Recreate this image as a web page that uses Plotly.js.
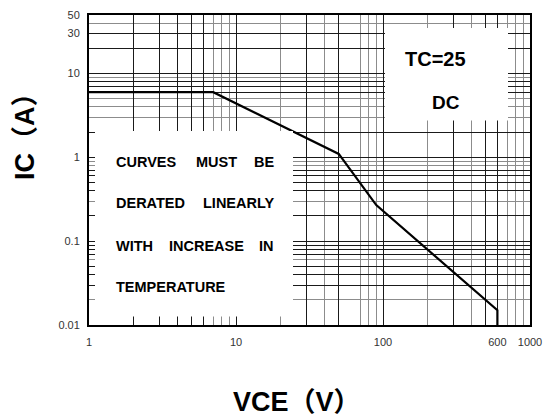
<!DOCTYPE html>
<html>
<head>
<meta charset="utf-8">
<script src="https://cdn.plot.ly/plotly-3.0.1.min.js"></script>
<style>html,body{margin:0;padding:0;background:#fff;}#chart{width:553px;height:417px;}</style>
</head>
<body>
<div id="chart"></div>
<script>
// Safe operating area curve (DC, TC=25)
const vce = [1, 7, 50, 90, 600, 600];
const ic = [6, 6, 1.1, 0.27, 0.015, 0.01];

// Tick labels
const xTickVals = [1, 10, 100, 600, 1000];
const xTickText = ['1', '10', '100', '600', '1000'];
const yTickVals = [0.01, 0.1, 1, 10, 30, 50];
const yTickText = ['0.01', '0.1', '1', '10', '30', '50'];

// Grid lines (dark and light)
const xGridDark = [2, 3, 4, 5, 6, 30, 50, 300, 500];
const xGridLight = [7, 8, 9, 20, 40, 70, 80, 90, 200, 400, 700, 800, 900];
const yGridDark = [0.03, 0.04, 0.05, 0.07, 0.08, 0.09, 0.2, 0.4, 0.5, 0.6, 0.7, 2, 6, 7, 8, 20];
const yGridLight = [0.02, 0.06, 0.3, 0.8, 0.9, 3, 4, 5, 9, 40];

// Note texts
const noteLines = [
  ['CURVES', 'MUST', 'BE'],
  ['DERATED', 'LINEARLY'],
  ['WITH', 'INCREASE', 'IN'],
  ['TEMPERATURE']
];
const condText = ['TC=25', 'DC'];
const xTitle = 'VCE（V）';
const yTitle = 'IC（A）';

const W = 553, H = 417;
const M = {l: 89, r: 23, t: 15, b: 92};
const PW = W - M.l - M.r, PH = H - M.t - M.b;
const px = x => (x - M.l) / PW;
const py = y => (M.t + PH - y) / PH;

function mergeTicks(vals, text, dark) {
  const all = vals.map((v, i) => [v, text[i]]).concat(dark.map(v => [v, '']));
  all.sort((a, b) => a[0] - b[0]);
  return {v: all.map(a => a[0]), t: all.map(a => a[1])};
}
const xt = mergeTicks(xTickVals, xTickText, xGridDark);
const yt = mergeTicks(yTickVals, yTickText, yGridDark);

const FONT = 'Liberation Sans, Arial, Noto Sans CJK SC, sans-serif';
const tickFont = {family: FONT, size: 11, color: '#333'};

const trace = {
  x: vce, y: ic, type: 'scatter', mode: 'lines',
  line: {color: '#000', width: 2.2}, hoverinfo: 'skip', showlegend: false
};

const noteFont = {family: FONT, size: 14.5, color: '#000', weight: 'bold'};
const notePos = [
  [[113.5, 'left'], [193.5, 'left'], [276, 'right']],
  [[113.5, 'left'], [276, 'right']],
  [[113.5, 'left'], [167, 'left'], [276, 'right']],
  [[113.5, 'left']]
];
const noteY = [161.7, 203.3, 246, 287];

const annotations = [];
noteLines.forEach((words, i) => {
  words.forEach((w, j) => {
    annotations.push({
      text: w, xref: 'paper', yref: 'paper',
      x: px(notePos[i][j][0]), y: py(noteY[i]),
      xanchor: notePos[i][j][1], yanchor: 'middle',
      showarrow: false, font: noteFont
    });
  });
});
annotations.push({text: condText[0], xref: 'paper', yref: 'paper', x: px(435), y: py(59),
  xanchor: 'center', yanchor: 'middle', showarrow: false,
  font: {family: FONT, size: 20, color: '#000', weight: 'bold'}});
annotations.push({text: condText[1], xref: 'paper', yref: 'paper', x: px(446), y: py(102.5),
  xanchor: 'center', yanchor: 'middle', showarrow: false,
  font: {family: FONT, size: 19, color: '#000', weight: 'bold'}});
annotations.push({text: xTitle, xref: 'paper', yref: 'paper', x: px(297), y: py(401.5),
  xanchor: 'center', yanchor: 'middle', showarrow: false,
  font: {family: FONT, size: 27, color: '#000', weight: 'bold'}});
annotations.push({text: yTitle, xref: 'paper', yref: 'paper', x: px(25), y: py(130),
  xanchor: 'center', yanchor: 'middle', showarrow: false, textangle: -90,
  font: {family: FONT, size: 27, color: '#000', weight: 'bold'}});

const shapes = [
  {type: 'rect', xref: 'paper', yref: 'paper', layer: 'above',
   x0: px(95), x1: px(293), y0: py(316.5), y1: py(131),
   fillcolor: '#ffffff', opacity: 1, line: {width: 0, color: 'rgba(0,0,0,0)'}},
  {type: 'rect', xref: 'paper', yref: 'paper', layer: 'above',
   x0: px(385), x1: px(508), y0: py(120.5), y1: py(28),
   fillcolor: '#ffffff', opacity: 1, line: {width: 0, color: 'rgba(0,0,0,0)'}}
];

const layout = {
  width: W, height: H, margin: M,
  paper_bgcolor: '#fff', plot_bgcolor: '#fff',
  showlegend: false,
  xaxis: {
    type: 'log', range: [0, 3], tickmode: 'array', tickvals: xt.v, ticktext: xt.t,
    ticks: '', showgrid: true, gridcolor: '#1a1a1a', gridwidth: 1,
    minor: {tickmode: 'array', tickvals: xGridLight, showgrid: true, gridcolor: '#8c8c8c', gridwidth: 1, ticks: ''},
    showline: true, linecolor: '#000', linewidth: 2, mirror: true,
    zeroline: false, tickfont: tickFont, ticklabelstandoff: 6, fixedrange: true
  },
  yaxis: {
    type: 'log', range: [-2, Math.log10(50)], tickmode: 'array', tickvals: yt.v, ticktext: yt.t,
    ticks: '', showgrid: true, gridcolor: '#1a1a1a', gridwidth: 1,
    minor: {tickmode: 'array', tickvals: yGridLight, showgrid: true, gridcolor: '#8c8c8c', gridwidth: 1, ticks: ''},
    showline: true, linecolor: '#000', linewidth: 2, mirror: true,
    zeroline: false, tickfont: tickFont, ticklabelstandoff: 5, fixedrange: true
  },
  annotations: annotations,
  shapes: shapes
};

Plotly.newPlot('chart', [trace], layout, {displayModeBar: false, staticPlot: true});
</script>
</body>
</html>
